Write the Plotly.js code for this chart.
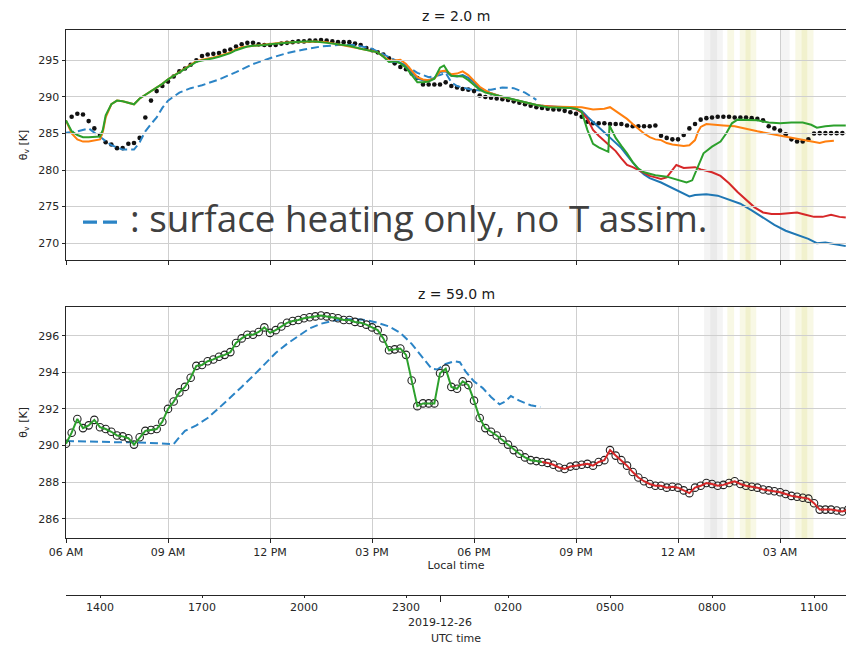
<!DOCTYPE html>
<html>
<head>
<meta charset="utf-8">
<script src="https://cdn.plot.ly/plotly-3.0.1.min.js"></script>
<style>html,body{margin:0;padding:0;background:#fff;}#chart{width:846px;height:645px;}</style>
</head>
<body>
<div id="chart"></div>
<script>
// ---------------- DATA ----------------
// Observations, 10-minute spacing (local time)
const obs2Start = '06:10';
const obs59Start = '06:00';
const obsStepMin = 10;
const obs2 = [287.3,287.7,287.6,286.7,285.7,284.8,283.8,283.5,283.0,283.0,
  283.6,283.7,284.4,287.2,289.5,290.8,291.5,292.1,292.8,293.5,
  293.9,294.4,295.0,295.6,295.8,295.9,296.0,296.3,296.5,296.9,
  297.2,297.4,297.4,297.2,297.1,297.1,297.1,297.3,297.4,297.5,
  297.6,297.6,297.7,297.7,297.8,297.7,297.6,297.5,297.5,297.5,
  297.3,297.1,296.7,296.4,296.1,295.8,295.3,294.6,294.1,293.8,
  293.2,292.6,291.7,291.7,291.7,291.7,292.0,291.5,291.3,291.1,
  291.0,290.8,290.2,290.0,289.9,289.8,289.7,289.6,289.4,289.2,
  289.0,288.8,288.6,288.5,288.4,288.3,288.3,288.1,287.9,287.7,
  287.3,286.6,286.4,286.4,286.4,286.3,286.3,286.3,286.1,286.0,
  286.0,286.0,286.0,286.1,284.7,284.4,284.2,284.2,284.8,285.7,
  286.3,286.9,287.1,287.2,287.3,287.3,287.3,287.2,287.2,287.2,
  287.1,287.0,286.8,286.0,285.7,285.4,284.9,284.2,283.9,283.9,
  284.2,285.0,285.05,285.05,285.05,285.05,285.05];
const obs59 = [290.1,290.7,291.45,290.95,291.1,291.4,291.0,290.9,290.75,290.55,
  290.5,290.4,290.05,290.45,290.8,290.85,290.9,291.3,292.0,292.4,
  292.9,293.2,293.7,294.35,294.4,294.6,294.7,294.85,294.95,295.1,
  295.6,295.85,296.05,296.05,296.2,296.45,296.15,296.3,296.5,296.7,
  296.8,296.85,296.95,297.0,297.05,297.1,297.05,297.0,296.95,296.85,
  296.85,296.75,296.7,296.6,296.45,296.3,295.85,295.2,295.25,295.3,
  294.95,293.55,292.15,292.3,292.3,292.3,293.95,294.2,293.2,293.1,
  293.5,293.3,292.45,291.5,290.95,290.75,290.55,290.3,290.05,289.75,
  289.55,289.35,289.2,289.15,289.1,289.05,288.95,288.8,288.72,288.85,
  288.9,288.95,289.0,288.9,289.1,289.2,289.75,289.45,289.2,288.9,
  288.55,288.25,288.05,287.9,287.8,287.8,287.7,287.75,287.7,287.55,
  287.4,287.7,287.8,287.95,287.9,287.8,287.85,287.95,288.05,287.9,
  287.8,287.75,287.7,287.6,287.55,287.5,287.45,287.35,287.25,287.2,
  287.15,287.1,286.85,286.5,286.5,286.5,286.45,286.4,286.5];
// time at which the 59 m assimilation run switches from green to red
const switch59 = '20:00';

// z = 2.0 m model runs (local HH:MM, value)
const d2Time = ['06:00','06:20','06:40','07:00','07:20','07:40','08:00','08:10','08:20','08:30','08:40','08:50','09:00','09:20','09:40','10:00','10:30','11:00','11:30','12:00','12:30','13:00','13:30','14:00','14:30','15:00','15:30','16:00','16:20','16:40','17:00','17:10','17:20','17:30','17:50','18:10','18:30','18:50','19:10','19:30','19:50'];
const d2Val  = [285.1,285.3,285.7,284.6,283.4,282.8,282.8,283.8,285.3,286.3,287.2,288.5,289.5,290.6,291.2,291.6,292.4,293.4,294.5,295.3,296.0,296.5,296.9,297.1,297.1,296.6,295.5,294.3,293.3,292.7,293.0,293.3,292.0,291.5,291.1,290.9,291.0,291.3,291.2,290.6,289.6];

const o2Time = ['06:00','06:10','06:20','06:30','06:40','06:50','07:00','07:05','07:10','07:20','07:30','07:40','07:50','08:00','08:10','08:20','08:30','08:40','08:50','09:00','09:10','09:20','09:30','09:40','09:50','10:00','10:10','10:20','10:30','10:40','10:50','11:00','11:10','11:20','11:30','11:40','11:50','12:00','12:20','12:40','13:00','13:20','13:40','14:00','14:20','14:40','15:00','15:10','15:20','15:30','15:40','15:50','16:00','16:10','16:20','16:30','16:40','16:50','17:00','17:10','17:20','17:30','17:40','17:50','18:00','18:10','18:20','18:30','18:50','19:10','19:30','19:50','20:10','20:30','20:50','21:10','21:30','21:50','22:00','22:10','22:20','22:30','22:40','22:50','23:00','23:10','23:20','23:30','23:40','23:50','00:00','00:10','00:20','00:30','00:35','00:40','00:50','01:00','01:20','01:40','02:00','02:20','02:40','03:00','03:20','03:40','04:00','04:10','04:20','04:35'];
const o2Val  = [286.8,285.0,284.2,283.9,283.9,284.0,284.2,285.2,287.2,289.0,289.5,289.4,289.2,289.0,289.8,290.3,290.7,291.2,291.8,292.4,292.9,293.4,293.9,294.4,294.9,295.1,295.2,295.4,295.6,295.8,296.1,296.5,296.8,296.9,297.0,297.0,297.1,297.3,297.4,297.5,297.6,297.6,297.5,297.2,297.0,296.6,296.3,296.1,295.5,295.0,295.0,295.1,294.5,293.6,292.7,292.4,292.3,292.5,293.5,293.6,293.1,293.2,293.5,293.0,292.2,291.4,290.9,290.5,290.0,289.6,289.2,288.9,288.7,288.7,288.7,288.6,288.3,288.4,288.6,288.1,287.6,287.0,286.3,285.6,285.0,284.5,284.2,284.1,283.7,283.5,283.4,283.3,283.4,284.1,285.2,285.9,286.3,286.2,286.1,286.0,285.6,285.3,285.0,284.7,284.4,284.2,283.9,283.7,283.9,284.0];

const g2Time = ['06:00','06:10','06:20','06:30','06:40','06:50','07:00','07:05','07:10','07:20','07:30','07:40','07:50','08:00','08:10','08:20','08:30','08:40','08:50','09:00','09:10','09:20','09:30','09:40','09:50','10:00','10:10','10:20','10:30','10:40','10:50','11:00','11:10','11:20','11:30','11:40','11:50','12:00','12:20','12:40','13:00','13:20','13:40','14:00','14:20','14:40','15:00','15:10','15:20','15:30','15:40','15:50','16:00','16:10','16:20','16:30','16:40','16:50','17:00','17:07','17:15','17:20','17:30','17:40','17:50','18:00','18:10','18:20','18:30','18:50','19:10','19:30','19:50','20:10','20:30','20:50','21:00','21:10','21:20','21:30','21:40','21:50','21:57','21:59','22:10','22:20','22:30','22:40','22:50','23:00','23:20','23:40','00:00','00:15','00:25','00:35','00:45','01:00','01:15','01:25','01:35','01:45','02:00','02:20','02:40','03:00','03:20','03:40','03:55','04:05','04:20','04:35','04:56'];
const g2Val  = [286.8,285.3,284.8,284.5,284.5,284.5,284.6,285.5,287.5,289.0,289.5,289.4,289.2,289.0,289.8,290.3,290.7,291.2,291.8,292.4,292.9,293.4,293.9,294.4,294.8,295.0,295.1,295.3,295.5,295.7,296.0,296.4,296.7,296.9,297.0,297.0,297.1,297.2,297.4,297.5,297.6,297.6,297.4,297.2,297.0,296.6,296.3,296.1,295.5,294.8,294.9,294.6,294.0,293.0,292.0,292.0,292.1,292.5,294.0,294.3,293.3,292.9,292.8,292.8,292.3,291.6,291.0,290.6,290.4,290.0,289.6,289.2,288.9,288.6,288.6,288.5,288.4,288.0,285.5,283.6,283.1,282.8,282.5,286.1,284.4,283.3,282.3,281.1,280.2,279.7,279.3,279.1,278.7,278.3,278.6,280.5,282.3,283.2,283.9,285.0,286.4,286.9,286.9,286.8,286.5,286.4,286.5,286.5,286.2,285.8,286.0,286.1,286.1];

const b2Time = ['15:30','15:50','16:00','16:10','16:20','16:30','16:40','16:50','17:00','17:10','17:20','17:30','17:40','17:50','18:00','18:10','18:20','18:30','18:50','19:10','19:30','19:50','20:10','20:30','20:50','21:00','21:10','21:20','21:30','21:40','21:50','22:00','22:10','22:20','22:30','22:40','22:50','23:00','23:10','23:30','23:50','00:00','00:20','00:30','00:50','01:10','01:30','01:50','02:10','02:30','02:50','03:10','03:30','03:50','04:05','04:20','04:35','04:56'];
const b2Val  = [294.9,294.7,294.2,293.3,292.5,292.3,292.3,292.6,293.4,293.5,292.9,292.8,293.0,292.6,292.0,291.2,290.8,290.5,290.0,289.6,289.2,288.9,288.7,288.6,288.6,288.4,288.1,287.3,286.6,285.8,285.1,284.5,283.8,283.0,282.0,281.0,280.1,279.4,278.9,278.3,277.5,277.1,276.4,276.6,276.7,276.5,276.0,275.4,274.5,273.5,272.5,271.7,271.2,270.6,270.0,270.1,269.9,269.6];

const r2Time = ['20:00','20:30','20:50','21:00','21:10','21:20','21:30','21:40','21:50','22:00','22:10','22:20','22:30','22:40','22:50','23:00','23:10','23:20','23:30','23:40','23:50','23:57','00:10','00:20','00:30','00:40','00:50','01:00','01:15','01:30','01:45','02:00','02:15','02:30','02:45','03:00','03:15','03:30','03:45','04:00','04:15','04:30','04:45','04:56'];
const r2Val  = [288.8,288.6,288.5,288.3,287.9,287.0,285.5,284.7,284.0,283.3,282.6,281.6,280.7,280.4,280.0,279.5,279.2,279.0,278.8,279.0,280.0,280.7,280.3,280.3,280.4,280.1,279.9,279.7,279.2,278.2,277.0,275.9,274.9,274.2,274.0,274.0,274.1,274.2,273.9,273.6,273.6,273.9,273.6,273.5];

// z = 59.0 m : surface heating only (dashed)
const d59Time = ['06:00','06:30','07:00','07:30','08:00','08:30','09:00','09:10','09:20','09:30','09:50','10:10','10:30','10:50','11:10','11:30','11:50','12:10','12:30','12:50','13:10','13:30','13:50','14:10','14:30','14:50','15:10','15:30','15:50','16:10','16:30','16:45','16:55','17:10','17:25','17:35','17:45','18:00','18:15','18:30','18:45','18:55','19:05','19:20','19:40','19:57'];
const d59Val  = [290.25,290.22,290.2,290.18,290.18,290.15,290.12,290.08,290.45,290.8,291.1,291.5,292.05,292.6,293.2,293.8,294.45,295.05,295.55,296.0,296.4,296.65,296.8,296.9,296.9,296.85,296.7,296.5,296.15,295.55,294.8,294.2,294.15,294.45,294.6,294.55,294.05,293.5,293.15,292.65,292.25,292.4,292.7,292.45,292.2,292.1];

// shaded periods (local time)
const greyStart = ['00:46','00:57','03:01'];
const greyEnd   = ['01:09','01:19','03:17'];
const yellowStart = ['01:27','01:49','01:59','03:27','03:38'];
const yellowEnd   = ['01:39','02:08','02:18','03:48','03:59'];

// ---------------- helpers ----------------
const pad = n => String(n).padStart(2,'0');
function minsSince0600(hm){ const [h,m]=hm.split(':').map(Number); let v=h*60+m-360; if(v<0) v+=1440; return v; }
function stampFromMins(mins){ const tot=360+mins; const day=25+Math.floor(tot/1440); const mm=tot%1440; return '2019-12-'+day+' '+pad(Math.floor(mm/60))+':'+pad(mm%60); }
const local = hm => stampFromMins(minsSince0600(hm));
const obsTimes = (start, n) => { const s=minsSince0600(start); return Array.from({length:n},(_,i)=>stampFromMins(s+i*obsStepMin)); };

const t2 = obsTimes(obs2Start, obs2.length);
const t59 = obsTimes(obs59Start, obs59.length);
const i59 = t59.indexOf(local(switch59));

const C = {blue:'#1f77b4', orange:'#ff7f0e', green:'#2ca02c', red:'#d62728', dash:'#2b84c6'};
const LW = 2;

const traces = [
  // top panel
  {x:t2, y:obs2, mode:'markers', marker:{color:'#111', size:4.6}, xaxis:'x', yaxis:'y'},
  {x:d2Time.map(local), y:d2Val, mode:'lines', line:{color:C.dash, width:LW, dash:'8px,4px'}, xaxis:'x', yaxis:'y'},
  {x:b2Time.map(local), y:b2Val, mode:'lines', line:{color:C.blue, width:LW}, xaxis:'x', yaxis:'y'},
  {x:r2Time.map(local), y:r2Val, mode:'lines', line:{color:C.red, width:LW}, xaxis:'x', yaxis:'y'},
  {x:o2Time.map(local), y:o2Val, mode:'lines', line:{color:C.orange, width:LW}, xaxis:'x', yaxis:'y'},
  {x:g2Time.map(local), y:g2Val, mode:'lines', line:{color:C.green, width:LW}, xaxis:'x', yaxis:'y'},
  // bottom panel
  {x:d59Time.map(local), y:d59Val, mode:'lines', line:{color:C.dash, width:LW, dash:'8px,4px'}, xaxis:'x2', yaxis:'y2'},
  {x:t59, y:obs59, mode:'markers', marker:{symbol:'circle-open', color:'#222', size:7.5, line:{width:1.1}}, xaxis:'x2', yaxis:'y2'},
  {x:t59.slice(0,i59+1), y:obs59.slice(0,i59+1), mode:'lines', line:{color:C.green, width:LW}, xaxis:'x2', yaxis:'y2'},
  {x:t59.slice(i59), y:obs59.slice(i59), mode:'lines', line:{color:C.red, width:LW}, xaxis:'x2', yaxis:'y2'},
];

const shapes = [];
[['x','y domain'],['x2','y2 domain']].forEach(([xr,yd])=>{
  greyStart.forEach((s,i)=>shapes.push({type:'rect', layer:'below', xref:xr, yref:yd, x0:local(s), x1:local(greyEnd[i]), y0:0, y1:1, fillcolor:'rgba(128,128,128,0.085)', line:{width:0}}));
  yellowStart.forEach((s,i)=>shapes.push({type:'rect', layer:'below', xref:xr, yref:yd, x0:local(s), x1:local(yellowEnd[i]), y0:0, y1:1, fillcolor:'rgba(191,191,0,0.1)', line:{width:0}}));
});
// blue dashes of the overlaid caption
shapes.push({type:'line', xref:'paper', yref:'paper', x0:0.0218, x1:0.0654, y0:0.6852, y1:0.6852, line:{color:C.dash, width:3.3, dash:'14px,6px'}});

const localRange = ['2019-12-25 06:00','2019-12-26 04:56:24'];
const utcRange   = ['2019-12-25 13:00','2019-12-26 11:56:24'];
const axCommon = {showline:true, linecolor:'#262626', linewidth:1, gridcolor:'#cfcfcf', gridwidth:1, ticks:'outside', ticklen:3.5, tickcolor:'#262626', zeroline:false};

const layout = {
  width:846, height:645,
  margin:{l:66, r:0, t:30, b:5},
  paper_bgcolor:'#ffffff', plot_bgcolor:'rgba(255,255,255,0)',
  font:{family:'DejaVu Sans', size:11, color:'#262626'},
  showlegend:false,
  xaxis:Object.assign({}, axCommon, {type:'date', range:localRange, anchor:'y', mirror:true, showticklabels:false, tick0:'2019-12-25 06:00', dtick:3*3600000}),
  xaxis2:Object.assign({}, axCommon, {type:'date', range:localRange, anchor:'y2', mirror:true, tick0:'2019-12-25 06:00', dtick:3*3600000, tickformat:'%I %p',
    title:{text:'Local time', font:{size:11}, standoff:3}}),
  xaxis3:{type:'date', range:utcRange, overlaying:'x2', anchor:'free', position:0.0738, side:'bottom', showline:true, linecolor:'#262626', linewidth:1,
    showgrid:false, zeroline:false, ticks:'outside', ticklen:2, tickcolor:'#262626', tick0:'2019-12-25 14:00', dtick:3*3600000, tickformat:'%H%M',
    minor:{tickmode:'array', tickvals:['2019-12-26 00:00'], ticks:'outside', ticklen:6, tickcolor:'#262626', showgrid:false},
    title:{text:'UTC time', font:{size:11}, standoff:21}},
  yaxis:Object.assign({}, axCommon, {domain:[0.62295,1], range:[267.7,299.16], dtick:5, tick0:270, anchor:'x',
    title:{text:'θ<sub>v</sub> [K]', font:{size:11}, standoff:8}}),
  yaxis2:Object.assign({}, axCommon, {domain:[0.16721,0.54639], range:[284.95,297.58], dtick:2, tick0:286, anchor:'x2',
    title:{text:'θ<sub>v</sub> [K]', font:{size:11}, standoff:8}}),
  shapes:shapes,
  annotations:[
    {text:'z = 2.0 m', xref:'paper', yref:'paper', x:0.5, y:1.023, xanchor:'center', yanchor:'middle', showarrow:false, font:{size:14, color:'#1a1a1a'}},
    {text:'z = 59.0 m', xref:'paper', yref:'paper', x:0.5, y:0.568, xanchor:'center', yanchor:'middle', showarrow:false, font:{size:14, color:'#1a1a1a'}},
    {text:': surface heating only, no T assim.', xref:'paper', yref:'paper', x:0.0795, y:0.6925, xanchor:'left', yanchor:'middle', showarrow:false,
      font:{family:'Open Sans', size:36.8, color:'#404040'}},
    {text:'2019-12-26', xref:'x3', yref:'paper', x:'2019-12-26 00:00', y:0.0295, xanchor:'center', yanchor:'middle', showarrow:false, font:{size:11}}
  ]
};

Plotly.newPlot('chart', traces, layout, {displayModeBar:false, staticPlot:true});
</script>
</body>
</html>
